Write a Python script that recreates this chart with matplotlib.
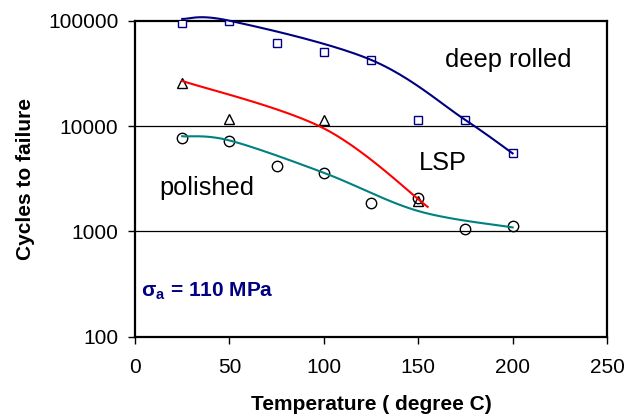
import numpy as np
import matplotlib
matplotlib.use("Agg")
import matplotlib.pyplot as plt

plt.rcParams.update({
    "font.family": ["Liberation Sans", "DejaVu Sans"],
    "mathtext.fontset": "custom",
    "mathtext.rm": "Liberation Sans",
    "mathtext.bf": "Liberation Sans:bold",
})

# measured points
temp = [25, 50, 75, 100, 125, 150, 175, 200]
cycles_deep = [94500, 100000, 61100, 50900, 42500, 11400, 11400, 5520]
temp_lsp = [25, 50, 100, 150]
cycles_lsp = [25500, 11600, 11300, 1950]
cycles_pol = [7650, 7230, 4180, 3565, 1850, 2090, 1048, 1132]

# knots of the hand-smoothed trend curves
curve_deep_x = [25, 50, 125, 175, 200]
curve_deep_y = [104000, 100000, 42500, 11400, 5500]
curve_lsp_x = [25, 100, 155]
curve_lsp_y = [26800, 9500, 1710]
curve_pol_x = [25, 50, 100, 150, 200]
curve_pol_y = [8000, 7300, 3600, 1560, 1090]

navy = "#000080"
teal = "#008080"


def smooth(xs, ys, n=40):
    # bezier smoothing through the knots, done in (x, log y) with the axes aspect
    p = np.column_stack([np.asarray(xs, float) / 250 * 472,
                         np.log10(ys) / 3 * 316])
    out = []
    for i in range(len(p) - 1):
        p0 = p[i - 1] if i > 0 else p[i]
        p1, p2 = p[i], p[i + 1]
        p3 = p[i + 2] if i + 2 < len(p) else p[i + 1]
        c1 = p1 + (p2 - p0) / 6
        c2 = p2 - (p3 - p1) / 6
        t = np.linspace(0, 1, n)[:, None]
        seg = ((1 - t) ** 3 * p1 + 3 * (1 - t) ** 2 * t * c1
               + 3 * (1 - t) * t ** 2 * c2 + t ** 3 * p2)
        out.append(seg if i == 0 else seg[1:])
    s = np.vstack(out)
    return s[:, 0] / 472 * 250, 10 ** (s[:, 1] / 316 * 3)


fig = plt.figure(figsize=(6.31, 4.19), dpi=100)
ax = fig.add_axes([135 / 631, 82.3 / 419, 472 / 631, 316 / 419])
ax.set_yscale("log")
ax.set_xlim(0, 250)
ax.set_ylim(100, 100000)

for y in [1000, 10000]:
    ax.axhline(y, color="black", lw=0.9, zorder=1)

ax.plot(temp, cycles_deep, ls="none", marker="s", ms=5.5, mfc="white",
        mec=navy, mew=1, zorder=3)
ax.plot(temp_lsp, cycles_lsp, ls="none", marker="^", ms=7, mfc="white",
        mec="black", mew=1, zorder=3)
ax.plot(temp, cycles_pol, ls="none", marker="o", ms=7.5, mfc="none",
        mec="black", mew=1, zorder=3)

ax.plot(*smooth(curve_deep_x, curve_deep_y), color=navy, lw=1.5, zorder=4, clip_on=False)
ax.plot(*smooth(curve_lsp_x, curve_lsp_y), color="red", lw=1.5, zorder=4)
ax.plot(*smooth(curve_pol_x, curve_pol_y), color=teal, lw=1.5, zorder=4)

ax.text(197.6, 42500, "deep rolled", fontsize=18.3, ha="center", va="center")
ax.text(163, 4470, "LSP", fontsize=18.3, ha="center", va="center")
ax.text(38, 2580, "polished", fontsize=18.3, ha="center", va="center")
ax.text(3.3, 272, r"σ$_\mathbf{a}$ = 110 MPa", fontsize=15, fontweight="bold",
        color=navy, ha="left", va="center")

ax.set_xticks([0, 50, 100, 150, 200, 250])
ax.set_yticks([100, 1000, 10000, 100000])
ax.set_yticklabels(["100", "1000", "10000", "100000"])
ax.minorticks_off()
ax.tick_params(direction="out", length=5, width=1, labelsize=15, colors="black")
ax.tick_params(axis="x", pad=10)
ax.tick_params(axis="y", pad=7)
for s in ax.spines.values():
    s.set_linewidth(1.6)

ax.set_xlabel("Temperature ( degree C)", fontsize=15, fontweight="bold", labelpad=13)
ax.set_ylabel("Cycles to failure", fontsize=15, fontweight="bold", labelpad=9)

fig.savefig("out.png", dpi=100)
